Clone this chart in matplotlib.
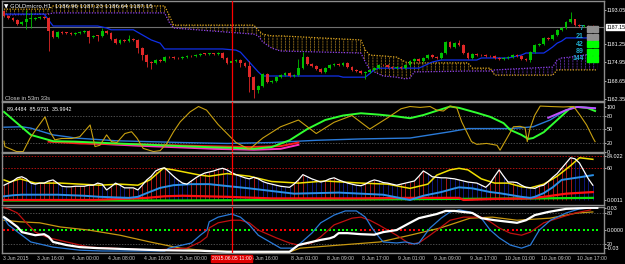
import matplotlib
matplotlib.use("Agg")
import matplotlib.pyplot as plt
from matplotlib.patches import Rectangle
import numpy as np

W, H = 625, 264
plt.rcParams["font.family"] = ["Liberation Sans", "DejaVu Sans"]
plt.rcParams["hatch.linewidth"] = 0.5

# ---------------- data ----------------
first_open = 1192.7
closes = [1190.9, 1190.2, 1189.6, 1188.2, 1188.9, 1189.9, 1190.0, 1190.2, 1190.6, 1190.2,
          1185.8, 1183.7, 1185.4, 1185.2, 1185.1, 1184.9, 1185.1, 1185.4, 1185.8, 1183.7,
          1184.1, 1184.0, 1185.8, 1185.1, 1183.0, 1181.6, 1182.7, 1182.3, 1183.0, 1182.7,
          1179.9, 1177.5, 1175.1, 1174.8, 1175.8, 1175.4, 1176.8, 1176.7, 1176.5, 1176.4,
          1176.8, 1177.2, 1177.1, 1177.5, 1177.9, 1177.8, 1177.9, 1177.8, 1178.2, 1176.5,
          1174.8, 1175.4, 1175.8, 1174.8, 1173.7, 1169.9, 1165.5, 1166.8, 1171.0, 1168.2,
          1168.6, 1169.9, 1170.6, 1171.3, 1170.3, 1170.6, 1173.0, 1176.8, 1174.4, 1173.7,
          1172.7, 1171.7, 1173.0, 1174.1, 1174.4, 1174.1, 1174.8, 1173.4, 1172.4, 1172.0,
          1171.3, 1171.7, 1172.4, 1173.0, 1174.1, 1174.0, 1173.4, 1173.0, 1173.4, 1173.0,
          1174.1, 1175.4, 1176.1, 1175.4, 1176.5, 1177.5, 1176.8, 1176.5, 1178.2, 1182.0,
          1180.3, 1181.6, 1181.0, 1178.2, 1176.5, 1177.9, 1177.5, 1177.4, 1177.2, 1177.1,
          1176.5, 1176.1, 1176.5, 1176.8, 1177.5, 1177.2, 1176.1, 1175.8, 1178.5, 1181.0,
          1181.3, 1183.4, 1183.0, 1184.4, 1186.1, 1186.8, 1188.9, 1189.9, 1187.8, 1187.5,
          1187.5, 1187.4, 1187.15]
long_highs = {5: 1193.0, 6: 1192.3, 10: 1190.6, 22: 1186.8, 28: 1184.4, 55: 1175.4,
              66: 1176.1, 67: 1178.5, 102: 1182.7, 118: 1178.9, 127: 1192.4, 128: 1189.2}
long_lows = {5: 1186.5, 6: 1186.8, 10: 1178.9, 19: 1181.6, 21: 1182.3, 30: 1178.2,
             31: 1175.8, 32: 1173.4, 33: 1172.7, 53: 1173.4, 55: 1164.8, 56: 1162.7,
             57: 1164.4, 81: 1169.3, 118: 1175.1}

ma_idx = [0, 9, 11, 21, 23, 24, 29, 33, 35, 36, 49, 52, 53, 56, 57, 58, 75, 76, 81, 83, 84,
          93, 96, 98, 106, 107, 113, 116, 117, 121, 122, 123, 124, 125, 126, 133]
ma_val = [1191.6, 1191.6, 1187.5, 1187.5, 1186.8, 1186.2, 1186.2, 1182.7, 1181.6, 1179.6,
          1179.6, 1179.2, 1178.5, 1173.4, 1171.7, 1170.3, 1170.3, 1169.9, 1169.9, 1172.4,
          1173.0, 1173.0, 1175.1, 1175.8, 1175.8, 1176.5, 1176.5, 1177.5, 1178.2, 1178.2,
          1179.2, 1180.3, 1181.6, 1182.3, 1183.4, 1183.4]

cloud_idx = [0, 10, 11, 36, 37, 38, 56, 57, 58, 60, 62, 80, 81, 82, 85, 88, 90, 91, 92,
             104, 105, 109, 110, 123, 124, 125, 127, 133]
cloud_gold = [1193.3, 1193.3, 1194.4, 1194.4, 1191.3, 1187.8, 1187.8, 1186.1, 1184.7,
              1184.1, 1184.1, 1182.7, 1179.2, 1177.5, 1177.2, 1176.8, 1175.1, 1174.8,
              1174.8, 1174.8, 1173.0, 1173.0, 1170.6, 1170.6, 1172.4, 1172.4, 1172.4, 1172.4]
cloud_purple = [1191.3, 1191.6, 1192.0, 1192.0, 1188.9, 1186.8, 1184.7, 1184.1, 1182.0,
                1179.9, 1178.9, 1178.2, 1175.1, 1172.4, 1170.3, 1169.9, 1169.3, 1169.6,
                1171.7, 1172.0, 1172.0, 1172.0, 1172.4, 1173.4, 1175.8, 1176.5, 1176.8, 1178.2]

price_ticks = [1193.05, 1181.25, 1174.95, 1168.65, 1162.35]
last_price = 1187.15
header = "\u25bc GOLDmicro,H1  1186.96 1187.23 1186.64 1187.15"
periods = ["7", "21", "42", "89", "144"]
period_colors = ["#909090", "#909090", "#00ff00", "#00ff00", "#00ff00"]

time_bars = [0, 7, 15, 23, 31, 39, 55, 64, 72, 80, 88, 96, 104, 112, 120, 128]
time_labels = ["3 Jun 2015", "3 Jun 16:00", "4 Jun 00:00", "4 Jun 08:00", "4 Jun 16:00",
               "5 Jun 00:00", "5 Jun 16:00", "8 Jun 01:00", "8 Jun 09:00", "8 Jun 17:00",
               "9 Jun 01:00", "9 Jun 09:00", "9 Jun 17:00", "10 Jun 01:00", "10 Jun 09:00",
               "10 Jun 17:00"]
cursor_bar = 51
cursor_label = "2015.06.05 11:00"

# panel 2 (oscillators)
osc_text = "89.4484  85.9731  35.9942"
green2 = [(0, 88), (6, 37), (11, 23), (16, 22), (25, 18), (35, 14), (45, 10), (52, 8), (56, 6),
          (60, 10), (64, 25), (68, 50), (72, 70), (76, 80), (80, 85), (84, 82), (88, 78),
          (91, 74), (94, 81), (100, 100), (102, 97), (106, 86), (109, 77), (112, 63),
          (113.5, 48), (116, 37), (117.5, 28), (118.6, 30), (121, 43), (124, 70), (127, 97),
          (128.5, 99), (130.7, 97), (132.5, 90)]
blue2 = [(0, 54), (4, 55), (6, 52), (11, 37), (14, 33), (16, 30), (25, 24), (40, 20), (50, 18),
         (60, 20), (70, 25), (80, 28), (91, 30), (95.5, 37), (100, 44), (104, 51), (113.5, 51),
         (118.6, 55), (122.4, 70), (126, 92), (128.5, 99), (132.5, 97)]
red2 = [(10, 22), (17, 18), (30, 16), (45, 12), (55, 10), (62, 12), (66, 20)]
magenta2 = [(16, 20), (30, 13), (40, 9), (47, 6), (56, 4), (62, 6), (66, 15)]
violet2 = [(122, 75), (126, 92), (128.5, 99), (132.5, 96)]
yellow2 = [(0, 23), (0.2, 11), (2.8, 0), (4.3, 0), (5.8, 29), (7.3, 51), (9.2, 77), (10.3, 44),
           (11.4, 26), (12.9, 29), (15.2, 29), (17, 33), (19.3, 59), (20.4, 11), (21.5, 14),
           (23, 37), (24.1, 22), (25.3, 20), (27.1, 40), (28.6, 44), (29.8, 30), (31.2, 7),
           (33.5, 0), (35, 2), (36.5, 18), (38, 44), (39.5, 66), (41.7, 88), (43.6, 100),
           (45.4, 92), (48, 60), (52, 20), (55, 5), (58, 30), (62, 55), (66, 70), (70, 40),
           (74, 65), (78, 80), (82, 50), (86, 75), (89, 95), (91, 100), (93.3, 98), (95.5, 100),
           (97, 92), (98.5, 90), (100, 101), (101.5, 97), (102.6, 66), (103.7, 44), (104.8, 22),
           (106, 16), (108.2, 18), (110.5, 14), (111.2, 3), (112.7, 29), (114.2, 55),
           (115.7, 56), (116.8, 53), (117.3, 22), (117.9, 51), (119, 81), (120.2, 101),
           (122.4, 100), (125.4, 99), (127.7, 100), (129.1, 81), (130.6, 59), (132.1, 29),
           (132.5, 22)]

# panel 3
white3 = [28, 32, 36, 42, 44, 40, 32, 30, 32, 32, 36, 38, 32, 26, 25, 25, 26, 26, 26, 28,
          28, 32, 30, 19, 25, 32, 28, 23, 23, 23, 19, 28, 38, 45, 55, 59, 61, 53, 45, 38,
          32, 30, 36, 42, 47, 51, 53, 55, 58, 60, 57, 52, 48, 45, 42, 40, 43, 40, 35, 32,
          30, 28, 26, 25, 24, 30, 38, 48, 44, 40, 37, 34, 36, 40, 42, 38, 35, 32, 30, 28,
          27, 30, 35, 38, 36, 33, 32, 30, 28, 30, 32, 34, 36, 45, 55, 50, 44, 43, 42, 42,
          41, 40, 38, 36, 34, 33, 32, 28, 24, 32, 45, 57, 45, 34, 34, 33, 28, 24, 23, 22,
          26, 28, 35, 43, 50, 60, 70, 80, 78, 70, 55, 40, 28]
yellow3 = [(0, 38), (1.3, 34), (3.6, 40), (7, 32), (12.6, 32), (21.5, 28), (26, 30), (30, 28),
           (32.7, 38), (35.7, 60), (38, 57), (44, 47), (46, 45), (50, 50), (55, 45), (60, 35),
           (66, 32), (72, 36), (80, 32), (86, 30), (91, 22), (95, 30), (97, 47), (100, 57),
           (102, 60), (104, 57), (107, 40), (110, 32), (113, 32), (116, 25), (118, 23),
           (121, 30), (124, 45), (127, 65), (129, 80), (131, 78), (132, 77)]
blue3 = [(0, 7), (2, 9), (4, 10), (12, 10), (18, 8), (21.5, 6), (28, 4), (30, 6), (32, 13),
         (35, 23), (38, 28), (42, 30), (46, 30), (55, 22), (65, 12), (75, 14), (85, 10),
         (91, 0), (94, 8), (98, 15), (101, 22), (102, 24), (105, 22), (109, 15), (111, 13),
         (116, 6), (118, 4), (119, 6), (121, 13), (123, 24), (125, 38), (129, 43), (132, 47)]
red3 = [(0, 0), (20, 0), (32, 4), (36, 7), (40, 8), (50, 6), (60, 3), (80, 3), (91, 4),
        (102, 4), (103, 0), (110, 2), (118, 3), (121, 6), (126, 12), (132, 15)]
green3 = [(0, -1), (40, -1), (60, 0), (80, 1), (100, 2), (120, 3), (132, 4)]

# panel 4
dot_level = 47
dot_segments = [(0, 2, "red"), (3, 23, "green"), (24, 32, "red"), (33, 37, "green"),
                (38, 45, "red"), (46, 55, "green"), (56, 68, "red"), (69, 79, "green"),
                (80, 93, "red"), (94, 112, "green"), (113, 115, "red"), (116, 133, "green")]
white4 = [(0, 72), (1, 66), (3, 53), (4, 43), (6, 39), (7, 37), (9, 39), (10, 34), (11, 24),
          (14, 18), (17, 14), (21, 12), (28, 10), (35, 8), (44, 7), (50, 5), (64, 5), (66, 18),
          (69, 24), (71, 28), (73, 31), (74, 34), (75, 41), (77, 41), (80, 39), (83, 38),
          (85, 43), (88, 47), (91, 61), (93, 70), (97, 78), (99, 84), (101, 84), (105, 80),
          (107, 70), (110, 66), (115, 61), (117, 66), (119, 76), (122, 82), (126, 88),
          (131, 90), (133, 90)]
blue4 = [(0, 70), (1, 57), (4, 37), (6, 24), (8, 20), (11, 14), (17, 8), (22, 6.5), (36, 6.5),
         (37, 12), (42, 22), (44, 37), (45.5, 47), (46, 63), (48, 72), (51, 78), (53, 72),
         (55, 57), (57, 37), (60, 22), (62, 12), (65, 12), (66, 18), (69, 41), (71, 61),
         (74, 76), (76.5, 84), (79, 84), (81, 72), (82.5, 51), (84, 34), (85, 24), (88, 22),
         (90, 24), (92, 20), (93, 22), (95.5, 51), (98, 70), (100, 82), (102, 86), (104.5, 82),
         (107, 70), (109, 47), (111, 32), (113.5, 18), (116, 12), (118, 18), (120, 47),
         (122.5, 66), (126, 80), (129, 88), (131.5, 90), (133, 90)]
darkred4 = [(0, 90), (1, 88), (3, 80), (5, 61), (7, 43), (10, 32), (15, 22), (19, 14), (24, 12),
            (33, 8), (41, 12), (44, 24), (45.5, 34), (46, 51), (48, 61), (51, 66), (53, 66),
            (55, 61), (57, 47), (61, 32), (64, 22), (66, 18), (69, 22), (71, 34), (74, 57),
            (78, 70), (80, 72), (82, 66), (84, 57), (88, 37), (91, 20), (93, 22), (95.5, 37),
            (98, 53), (100, 66), (103, 72), (107, 72), (109, 63), (111, 51), (113.5, 41),
            (116, 37), (118, 43), (121, 61), (125, 72), (128, 80), (131.5, 86)]
gold4 = [(0, 66), (3.6, 63), (8, 61), (12.6, 53), (19, 47), (26, 37), (32.7, 24), (39.5, 12),
         (46, 6.5), (55, 4.5), (64, 4.5), (66.4, 12), (75.3, 18), (84.3, 24), (91, 37),
         (97.8, 51), (104.5, 70), (109.5, 72), (115, 66), (122.4, 70), (128.5, 80), (132, 82)]

# ---------------- figure ----------------
fig = plt.figure(figsize=(W / 100, H / 100), dpi=100, facecolor="black")
x_left, x_right = 2, 604
bar_lim = (-0.45, 134.5)
grid_col = "#6a6a6a"
fs = 3.9


def panel(top, bottom):
    ax = fig.add_axes([x_left / W, 1 - bottom / H, (x_right - x_left) / W, (bottom - top) / H])
    ax.set_facecolor("black")
    for s in ax.spines.values():
        s.set_color("#8c8c8c")
        s.set_linewidth(1.0)
    ax.set_xlim(*bar_lim)
    ax.set_xticks([])
    ax.yaxis.tick_right()
    ax.tick_params(axis="y", colors="white", labelsize=fs, length=1.5, width=0.5, pad=0.6)
    return ax


def xy(points):
    a = np.array(points, dtype=float)
    return a[:, 0], a[:, 1]


ax1 = panel(1, 101)
ax2 = panel(102, 152)
ax3 = panel(153, 205)
ax4 = panel(207, 253)

# ---- main price panel ----
ax1.set_ylim(1161.7, 1196.1)
ax1.axhline(last_price, color="#707070", lw=0.8, zorder=1)

ci = np.array(cloud_idx, dtype=float)
cg = np.array(cloud_gold)
cp = np.array(cloud_purple)
ax1.fill_between(ci, cg, cp, where=cg >= cp, interpolate=True, facecolor="none",
                 edgecolor="#b08420", hatch="||||", linewidth=0, zorder=1)
ax1.fill_between(ci, cg, cp, where=cg < cp, interpolate=True, facecolor="none",
                 edgecolor="#6a34b8", hatch="||||", linewidth=0, zorder=1)
# break the hatch into dots, as the terminal draws it
ax1.fill_between(ci, cg, cp, facecolor="none", edgecolor="black", hatch="------",
                 linewidth=0, zorder=1.5)
ax1.plot(ci, cg, color="#e0a820", lw=0.9, ls=(0, (1, 1.2)), zorder=2)
ax1.plot(ci, cp, color="#9040f0", lw=0.9, ls=(0, (1, 1.2)), zorder=2)
ax1.plot(ma_idx, ma_val, color="#1030e8", lw=0.9, zorder=3)

opens = [first_open] + closes[:-1]
for i, (o, c) in enumerate(zip(opens, closes)):
    col = "#00c000" if c >= o else "#e02828"
    hi = long_highs.get(i, max(o, c) + 0.35)
    lo = long_lows.get(i, min(o, c) - 0.35)
    ax1.vlines(i, lo, hi, color=col, lw=0.6, zorder=4)
    ax1.bar(i, max(abs(c - o), 0.25), bottom=min(o, c), width=0.62, color=col, lw=0, zorder=5)

ax1.set_yticks(price_ticks)
ax1.set_yticklabels([f"{p:.2f}" for p in price_ticks])
ax1.text(1.004, (last_price - 1161.7) / (1196.1 - 1161.7), f"{last_price:.2f}",
         transform=ax1.transAxes, ha="left", va="center", fontsize=fs, color="black",
         bbox=dict(boxstyle="square,pad=0.12", fc="white", ec="white"))
fig.text(4 / W, 1 - 6 / H, header, ha="left", va="center", color="white", fontsize=fs + 0.2,
         family=["DejaVu Sans"])
fig.text(5 / W, 1 - 98 / H, "Close in 53m 33s", ha="left", va="center", color="#d0d0d0",
         fontsize=fs + 0.3)
for k, (p, col) in enumerate(zip(periods, period_colors)):
    yy = 29 + k * 7.5
    fig.text(584 / W, 1 - yy / H, p, ha="right", va="center", color="#20a8c8", fontsize=5,
             fontweight="bold")
    for x0 in (587, 593):
        fig.patches.append(Rectangle((x0 / W, 1 - (yy + 3) / H), 5 / W, 6 / H,
                                     transform=fig.transFigure, color=col))

# ---- panel 2 ----
ax2.set_ylim(-1, 110)
for lvl in (80, 50, 20):
    ax2.axhline(lvl, color=grid_col, lw=0.5, ls=(0, (2, 2)))
ax2.set_yticks([100, 80, 50, 20, 0])
ax2.plot(*xy(blue2), color="#2a7ad8", lw=1.0)
ax2.plot(*xy(magenta2), color="#ff30c0", lw=1.4)
ax2.plot(*xy(red2), color="#ff1a1a", lw=1.4)
ax2.plot(*xy(green2), color="#30ff30", lw=1.4)
ax2.plot(*xy(violet2), color="#c050ff", lw=1.4)
ax2.plot(*xy(yellow2), color="#c8a010", lw=0.8)
ax2.text(0.008, 0.86, osc_text, transform=ax2.transAxes, ha="left", va="center",
         color="white", fontsize=fs)

# ---- panel 3 ----
ax3.set_ylim(-9.5, 89)
for lvl in (84, 60):
    ax3.axhline(lvl, color="#b01010", lw=0.7, ls=(0, (1.5, 1.5)))
bars3 = np.arange(len(white3))
w3 = np.array(white3, dtype=float)
rising = np.r_[True, np.diff(w3) >= 0]
ax3.vlines(bars3[rising], 0, w3[rising], color="#c01818", lw=0.6)
ax3.vlines(bars3[~rising], 0, w3[~rising], color="#101a90", lw=0.6)
ax3.plot(*xy(green3), color="#10e010", lw=1.6)
ax3.plot(*xy(red3), color="#ff1010", lw=1.6)
ax3.plot(*xy(blue3), color="#2a90e8", lw=1.4)
ax3.plot(*xy(yellow3), color="#f0e000", lw=1.1)
ax3.plot(bars3, w3, color="white", lw=0.9)
ax3.set_yticks([84.022, 60, 0.0011])
ax3.set_yticklabels(["84.022", "60", "0.0011"])

# ---- panel 4 ----
ax4.set_ylim(2.6, 91.6)
for lvl in (80, 20):
    ax4.axhline(lvl, color=grid_col, lw=0.5, ls=(0, (2, 2)))
for a, b, col in dot_segments:
    idx = np.arange(a, b + 1)
    ax4.scatter(idx, np.full(len(idx), dot_level), s=3.2, marker="s",
                color="#00ff00" if col == "green" else "#ff0000", lw=0, zorder=2)
ax4.plot(*xy(gold4), color="#c89810", lw=0.9, zorder=3)
ax4.plot(*xy(darkred4), color="#c01010", lw=0.9, zorder=3)
ax4.plot(*xy(blue4), color="#2a7ad8", lw=0.9, zorder=3)
ax4.plot(*xy(white4), color="white", lw=1.6, zorder=4)
ax4.set_yticks([89.7, 80, 47, 20, 12])
ax4.set_yticklabels(["0.03", "80", "0.0000", "20", "-0.03"])

# ---- cursor line and time axis ----
for ax in (ax1, ax2, ax3, ax4):
    ax.axvline(cursor_bar, color="#ff0000", lw=0.9, zorder=10)

for b, lab in zip(time_bars, time_labels):
    xb = b + 0.35 if b > 0 else -0.3
    ax4.text(xb, -0.12, lab, transform=ax4.get_xaxis_transform(), ha="left", va="center",
             color="#c8c8c8", fontsize=fs - 0.2, clip_on=False)
ax4.text(cursor_bar, -0.12, cursor_label, transform=ax4.get_xaxis_transform(),
         ha="center", va="center", color="white", fontsize=fs - 0.2, clip_on=False, zorder=12,
         bbox=dict(boxstyle="square,pad=0.15", fc="#e00000", ec="#e00000"))

fig.savefig("out.png", dpi=100, facecolor="black")
